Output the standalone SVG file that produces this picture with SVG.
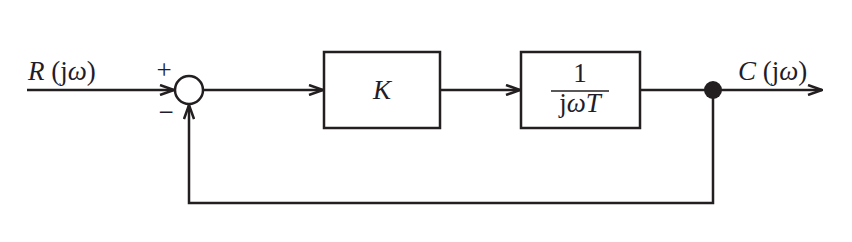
<svg xmlns="http://www.w3.org/2000/svg" width="852" height="242" viewBox="0 0 852 242">
<style>
.ln{fill:none;stroke:#231f20;stroke-width:2.5}
.bx{fill:#fff;stroke:#231f20;stroke-width:2.5}
.t{font-family:"Liberation Serif",serif;font-size:27px;fill:#1f1d2b}
.i{font-style:italic}
</style>
<defs>
<marker id="a" viewBox="0 0 16 12" refX="15" refY="6" markerWidth="16" markerHeight="12" markerUnits="userSpaceOnUse" orient="auto">
<path d="M1,1 L15,6 L1,11" fill="none" stroke="#231f20" stroke-width="2.5"/>
</marker>
</defs>
<g id="connectors">
<line class="ln" x1="27" y1="90" x2="174" y2="90" marker-end="url(#a)"/>
<line class="ln" x1="203" y1="90" x2="323" y2="90" marker-end="url(#a)"/>
<line class="ln" x1="440" y1="90" x2="520" y2="90" marker-end="url(#a)"/>
<line class="ln" x1="640" y1="90" x2="822" y2="90" marker-end="url(#a)"/>
<polyline class="ln" points="713,90 713,203 189,203 189,105" marker-end="url(#a)"/>
</g>
<g id="input-label"><text class="t" x="28" y="80"><tspan class="i">R</tspan> (j<tspan class="i">ω</tspan>)</text></g>
<g id="sum">
<circle cx="189" cy="90" r="14" class="bx"/>
<text class="t" x="164" y="79" text-anchor="middle" font-size="21">+</text>
<text class="t" x="166" y="121" text-anchor="middle" font-size="21">−</text>
</g>
<g id="K">
<rect class="bx" x="324" y="52" width="116" height="76"/>
<text class="t i" x="382" y="99" text-anchor="middle" font-size="29">K</text>
</g>
<g id="integrator">
<rect class="bx" x="521" y="52" width="119" height="76"/>
<text class="t" x="580" y="82" text-anchor="middle">1</text>
<line x1="551" y1="91" x2="609" y2="91" stroke="#231f20" stroke-width="1.5"/>
<text class="t" x="580" y="112" text-anchor="middle">j<tspan class="i">ωT</tspan></text>
</g>
<g id="branch"><circle cx="713" cy="90" r="9" fill="#231f20"/></g>
<g id="output-label"><text class="t" x="738" y="80"><tspan class="i">C</tspan> (j<tspan class="i">ω</tspan>)</text></g>
</svg>
